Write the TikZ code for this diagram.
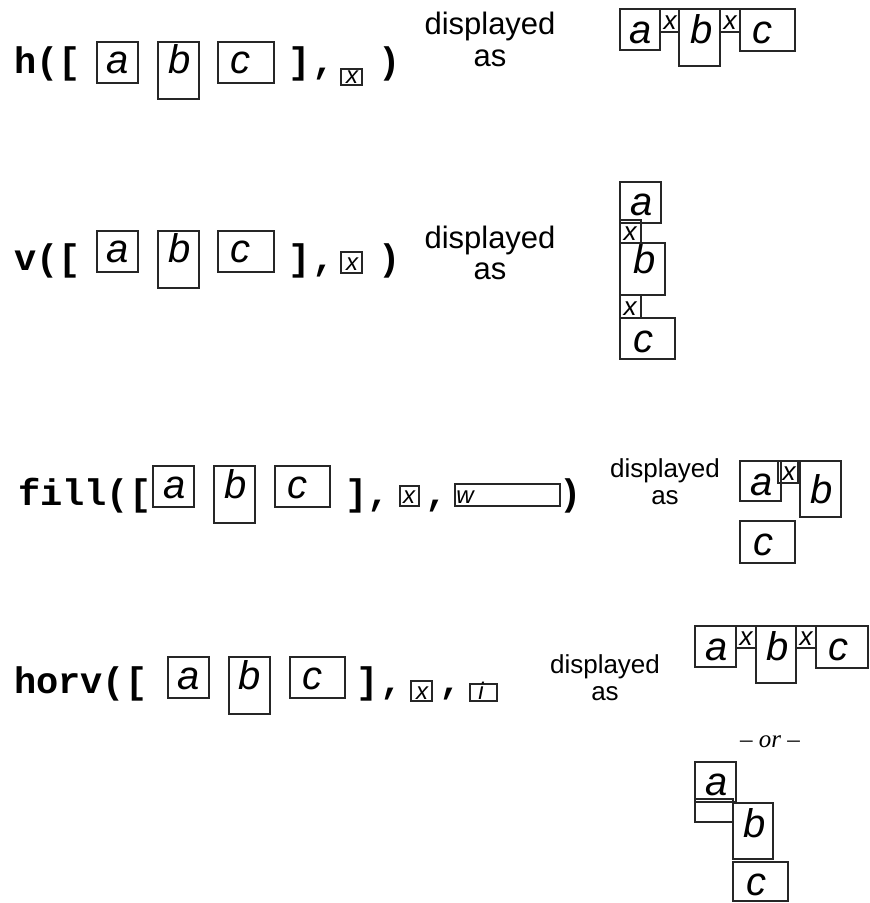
\documentclass[tikz,border=0pt]{standalone}
\usepackage{fontspec}
\setmainfont{Liberation Sans}
\newfontfamily\monob{Liberation Mono}
\newfontfamily\serifit{Liberation Serif}
\tikzset{
  bx/.style={draw=black!85, line width=1.2pt, inner sep=0pt, outer sep=0pt, anchor=north west},
  code/.style={inner sep=0pt, anchor=base, font=\monob\bfseries\fontsize{37}{37}\selectfont},
  codew/.style={inner sep=0pt, anchor=base west, font=\monob\bfseries\fontsize{37}{37}\selectfont},
  lt/.style={inner sep=0pt, anchor=base, font=\itshape\fontsize{40}{40}\selectfont},
  sx/.style={inner sep=0pt, anchor=base, font=\itshape\fontsize{26}{26}\selectfont},
  sxs/.style={inner sep=0pt, anchor=base, font=\itshape\fontsize{24}{24}\selectfont},
  dl/.style={inner sep=0pt, anchor=base, font=\fontsize{31}{31}\selectfont},
  dls/.style={inner sep=0pt, anchor=base, font=\fontsize{26}{26}\selectfont},
}
\begin{document}
\begin{tikzpicture}[x=1pt,y=-1pt]
\path[use as bounding box, fill=white] (0,0) rectangle (870,903);

% ---------- Row 1: h ----------
\node[codew] (h1) at (14,73) {h([};
\node[bx, minimum width=41, minimum height=41] (h1a) at (97,42) {};
\node[lt] (h1al) at (118,73) {a};
\node[bx, minimum width=41, minimum height=57] (h1b) at (158,42) {};
\node[lt] (h1bl) at (180,73) {b};
\node[bx, minimum width=56, minimum height=41] (h1c) at (218,42) {};
\node[lt] (h1cl) at (240,73) {c};
\node[code] (h1r) at (300,73) {]};
\node[code] (h1k) at (324,73) {,};
\node[bx, minimum width=21, minimum height=16] (h1x) at (341,69) {};
\node[sxs] (h1xl) at (352,83) {x};
\node[code] (h1p) at (390,73) {)};
\node[dl] (h1d) at (490,34) {displayed};
\node[dl] (h1s) at (490,66) {as};
% display
\node[bx, minimum width=40, minimum height=41] (h1da) at (620,9) {};
\node[lt] at (641,43) {a};
\node[bx, minimum width=19, minimum height=23] (h1dx1) at (660,9) {};
\node[sx] at (670,29) {x};
\node[bx, minimum width=41, minimum height=57] (h1db) at (679,9) {};
\node[lt] at (702,43) {b};
\node[bx, minimum width=20, minimum height=23] (h1dx2) at (720,9) {};
\node[sx] at (730,29) {x};
\node[bx, minimum width=55, minimum height=42] (h1dc) at (740,9) {};
\node[lt] at (762,43) {c};

% ---------- Row 2: v ----------
\node[codew] (v1) at (14,270) {v([};
\node[bx, minimum width=41, minimum height=41] (v1a) at (97,231) {};
\node[lt] at (118,262) {a};
\node[bx, minimum width=41, minimum height=57] (v1b) at (158,231) {};
\node[lt] at (180,262) {b};
\node[bx, minimum width=56, minimum height=41] (v1c) at (218,231) {};
\node[lt] at (240,262) {c};
\node[code] (v1r) at (300,270) {]};
\node[code] (v1k) at (324,270) {,};
\node[bx, minimum width=21, minimum height=21] (v1x) at (341,252) {};
\node[sxs] at (352,270) {x};
\node[code] (v1p) at (390,270) {)};
\node[dl] (v1d) at (490,248) {displayed};
\node[dl] (v1s) at (490,279) {as};
% display
\node[bx, minimum width=41, minimum height=41] (v1da) at (620,182) {};
\node[lt] at (642,215) {a};
\node[bx, minimum width=21, minimum height=23] (v1dx1) at (620,220) {};
\node[sx] at (630,240) {x};
\node[bx, minimum width=45, minimum height=52] (v1db) at (620,243) {};
\node[lt] at (645,273) {b};
\node[bx, minimum width=21, minimum height=23] (v1dx2) at (620,295) {};
\node[sx] at (630,315) {x};
\node[bx, minimum width=55, minimum height=41] (v1dc) at (620,318) {};
\node[lt] at (643,352) {c};

% ---------- Row 3: fill ----------
\node[codew] (f1) at (18,505) {fill([};
\node[bx, minimum width=41, minimum height=41] (f1a) at (153,466) {};
\node[lt] at (175,498) {a};
\node[bx, minimum width=41, minimum height=57] (f1b) at (214,466) {};
\node[lt] at (236,498) {b};
\node[bx, minimum width=55, minimum height=41] (f1c) at (275,466) {};
\node[lt] at (297,498) {c};
\node[code] (f1r) at (357,505) {]};
\node[code] (f1k) at (379,505) {,};
\node[bx, minimum width=19, minimum height=20] (f1x) at (400,486) {};
\node[sxs] at (409,503) {x};
\node[code] (f1k2) at (437,505) {,};
\node[bx, minimum width=105, minimum height=22] (f1w) at (455,484) {};
\node[sxs] at (465,503) {w};
\node[code] (f1p) at (571,505) {)};
\node[dls] (f1d) at (665,477) {displayed};
\node[dls] (f1s) at (665,504) {as};
% display
\node[bx, minimum width=41, minimum height=40] (f1da) at (740,461) {};
\node[lt] at (762,495) {a};
\node[bx, minimum width=20, minimum height=22] (f1dx) at (778,461) {};
\node[sx] at (789,480) {x};
\node[bx, minimum width=41, minimum height=56] (f1db) at (800,461) {};
\node[lt] at (822,503) {b};
\node[bx, minimum width=55, minimum height=42] (f1dc) at (740,521) {};
\node[lt] at (763,555) {c};

% ---------- Row 4: horv ----------
\node[codew] (o1) at (14,693) {horv([};
\node[bx, minimum width=41, minimum height=41] (o1a) at (168,657) {};
\node[lt] at (189,689) {a};
\node[bx, minimum width=41, minimum height=57] (o1b) at (229,657) {};
\node[lt] at (250,689) {b};
\node[bx, minimum width=55, minimum height=41] (o1c) at (290,657) {};
\node[lt] at (312,689) {c};
\node[code] (o1r) at (368,693) {]};
\node[code] (o1k) at (392,693) {,};
\node[bx, minimum width=21, minimum height=20] (o1x) at (411,681) {};
\node[sxs] at (422,699) {x};
\node[code] (o1k2) at (451,693) {,};
\node[bx, minimum width=27, minimum height=17] (o1i) at (470,684) {};
\node[sxs] at (481,699) {i};
\node[dls] (o1d) at (605,673) {displayed};
\node[dls] (o1s) at (605,700) {as};
% display horizontal
\node[bx, minimum width=41, minimum height=41] (o1da) at (695,626) {};
\node[lt] at (717,660) {a};
\node[bx, minimum width=20, minimum height=22] (o1dx1) at (736,626) {};
\node[sx] at (746,645) {x};
\node[bx, minimum width=40, minimum height=57] (o1db) at (756,626) {};
\node[lt] at (778,660) {b};
\node[bx, minimum width=20, minimum height=22] (o1dx2) at (796,626) {};
\node[sx] at (806,645) {x};
\node[bx, minimum width=52, minimum height=42] (o1dc) at (816,626) {};
\node[lt] at (838,660) {c};
% or
\node[inner sep=0pt, anchor=base, font=\serifit\itshape\fontsize{25}{25}\selectfont] (or) at (770,747) {– or –};
% display vertical
\node[bx, minimum width=41, minimum height=40] (o2a) at (695,762) {};
\node[lt] at (717,795) {a};
\node[bx, minimum width=38, minimum height=23] (o2e) at (695,799) {};
\node[bx, minimum width=40, minimum height=56] (o2b) at (733,803) {};
\node[lt] at (755,837) {b};
\node[bx, minimum width=55, minimum height=39] (o2c) at (733,862) {};
\node[lt] at (756,895) {c};
\end{tikzpicture}
\end{document}
